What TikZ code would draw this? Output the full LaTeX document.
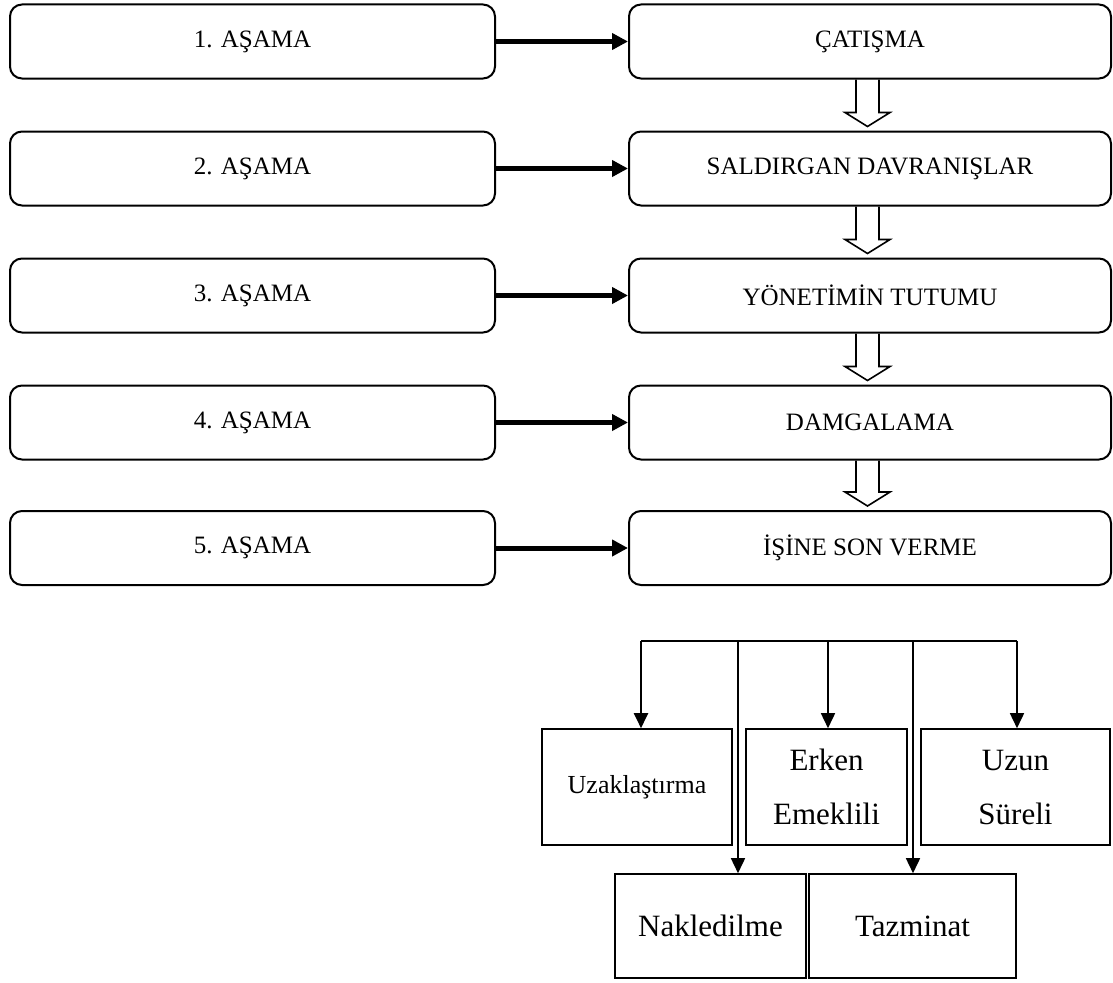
\documentclass[tikz,border=0pt]{standalone}
\usepackage{fontspec}
\setmainfont{Liberation Serif}
\usetikzlibrary{arrows.meta,calc}
\begin{document}
\begin{tikzpicture}[x=1pt,y=-1pt,
  stagebox/.style={draw, line width=2pt, rounded corners=12pt, minimum height=74pt,
    inner sep=0pt, font=\fontsize{25}{30}\selectfont},
  leftbox/.style={stagebox, minimum width=485pt},
  rightbox/.style={stagebox, minimum width=482pt},
  fatarrow/.style={line width=5pt, -{Triangle[length=16pt,width=16pt]}},
  hollow/.style={draw, line width=1.6pt, line join=miter},
  leaf/.style={draw, line width=1.6pt, inner sep=0pt, align=center},
  bigleaf/.style={leaf, font=\fontsize{31}{54}\selectfont},
  treeline/.style={line width=2pt},
  treearrow/.style={line width=1.6pt, -{Triangle[length=15pt,width=14pt]}}
]
\useasboundingbox (0,0) rectangle (1113,982);

% stages
\node[leftbox] (L1) at (252.5,41.5) {1. AŞAMA};
\node[leftbox] (L2) at (252.5,168.5) {2. AŞAMA};
\node[leftbox] (L3) at (252.5,295.5) {3. AŞAMA};
\node[leftbox] (L4) at (252.5,422.5) {4. AŞAMA};
\node[leftbox] (L5) at (252.5,548) {5. AŞAMA};

\node[rightbox] (R1) at (870,41.5) {ÇATIŞMA};
\node[rightbox] (R2) at (870,168.5) {SALDIRGAN DAVRANIŞLAR};
\node[rightbox] (R3) at (870,295.5) {YÖNETİMİN TUTUMU};
\node[rightbox] (R4) at (870,422.5) {DAMGALAMA};
\node[rightbox] (R5) at (870,548) {İŞİNE SON VERME};

\foreach \i in {1,...,5}{
  \draw[fatarrow] (L\i.east) -- (R\i.west);
}

\foreach \a/\b in {R1/R2,R2/R3,R3/R4,R4/R5}{
  \draw[hollow] ($(\a.south)+(-14,0)$) -- ($(\b.north)+(-14,-18)$) -- ($(\b.north)+(-25,-18)$)
    -- ($(\b.north)+(-2.5,-4)$) -- ($(\b.north)+(20,-18)$) -- ($(\b.north)+(9,-18)$)
    -- ($(\a.south)+(9,0)$);
}

% outcomes
\node[leaf, minimum width=190pt, minimum height=116pt, font=\fontsize{26}{31}\selectfont] (U) at (637,787) {Uzaklaştırma};
\node[bigleaf, minimum width=161pt, minimum height=116pt] (E) at (826.5,787) {Erken\\Emeklili};
\node[bigleaf, minimum width=189pt, minimum height=116pt] (S) at (1015.5,787) {Uzun\\Süreli};
\node[bigleaf, minimum width=191pt, minimum height=104pt] (N) at (710.5,926) {Nakledilme};
\node[bigleaf, minimum width=207pt, minimum height=104pt] (T) at (912.5,926) {Tazminat};

\coordinate (hU) at (641,641);
\coordinate (hN) at (738,641);
\coordinate (hE) at (828,641);
\coordinate (hT) at (913,641);
\coordinate (hS) at (1017,641);

\draw[treeline] (hU) -- (hS);
\draw[treearrow, line width=2pt] (hU) -- (hU |- U.north);
\draw[treearrow] (hN) -- (hN |- N.north);
\draw[treearrow] (hE) -- (hE |- E.north);
\draw[treearrow] (hT) -- (hT |- T.north);
\draw[treearrow] (hS) -- (hS |- S.north);
\end{tikzpicture}
\end{document}
